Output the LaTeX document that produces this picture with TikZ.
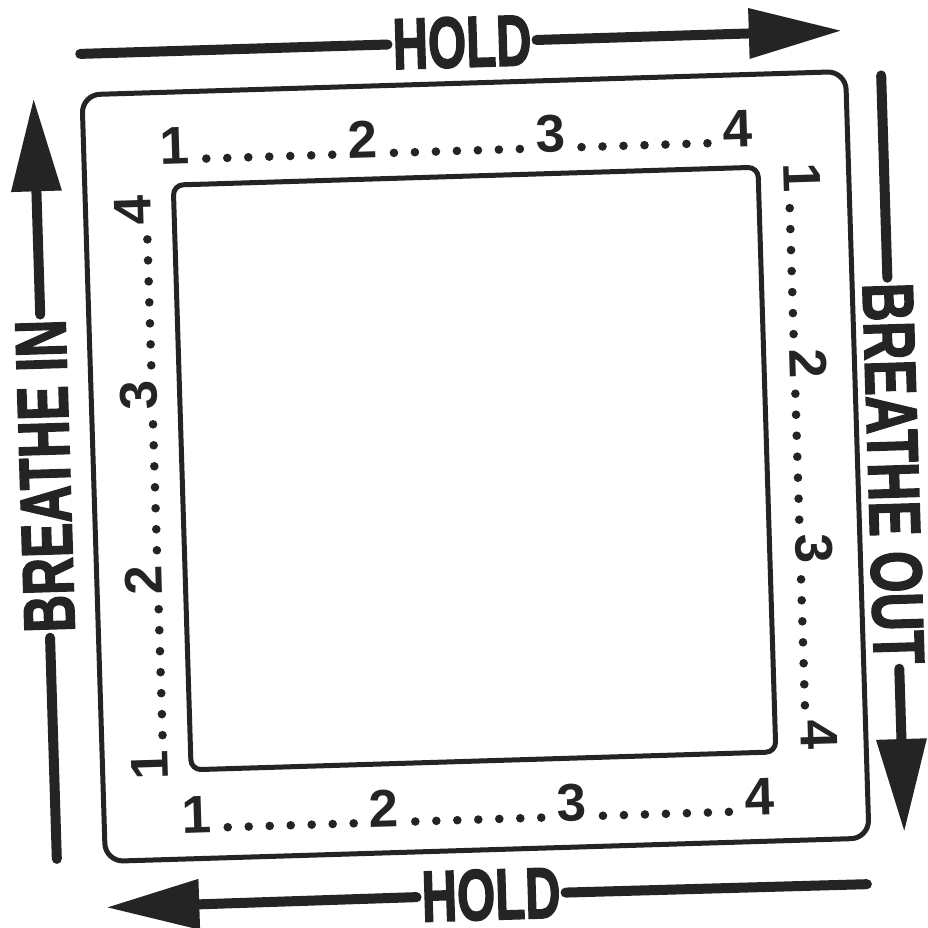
\documentclass[tikz,border=0pt]{standalone}
\usepackage{fontspec}
\usetikzlibrary{arrows.meta}
\newfontfamily\countfont{Liberation Sans}
\newfontfamily\holdfont{Liberation Sans}[FakeBold=2.5]
\definecolor{inkGray}{HTML}{242424}
\newcommand{\cond}[2][0.68]{\scalebox{#1}[1]{#2}}
% one counting side: x, y, rotation, gap, name
\newcommand{\countside}[5]{%
  \begin{scope}[shift={(#1,#2)}, rotate=#3, transform shape]
    \foreach \k in {1,...,4}
      \node[countnum] (#5\k) at ({(\k-1)*#4},0) {\k};
    \foreach \k in {0,1,2}
      \foreach \j in {-3,...,3}
        \fill[inkGray] ({\k*#4+#4/2+\j*21},4.5) circle (4.3);
  \end{scope}}
\tikzset{
  countnum/.style={font=\countfont\bfseries\fontsize{53}{53}\selectfont, anchor=base, inner sep=0pt, text=inkGray},
  cuelbl/.style={font=\holdfont\bfseries\fontsize{72}{72}\selectfont, inner sep=5pt, text=inkGray},
  cuebar/.style={line width=10pt, line cap=round, inkGray},
  cuetip/.style={-{Triangle[length=93pt, width=48pt]}}
}

\begin{document}
\begin{tikzpicture}[x=1pt, y=1pt]
  \useasboundingbox[fill=white] (-475,-461) rectangle (453,467);
  \begin{scope}[rotate=1.75, transform shape]
    % Frames
    \draw[inkGray, line width=5pt, rounded corners=18pt] (-381.5,-383) rectangle (382.5,384);
    \draw[inkGray, line width=5pt, rounded corners=10pt] (-293,-294) rectangle (292,291);
    % Counting sides
    \countside{-290}{312}{0}{187.7}{top}
    \countside{318}{279}{-90}{185.7}{rgt}
    \countside{-289}{-357}{0}{187.7}{bot}
    \countside{-316}{-288}{90}{185}{lft}
    % Cue labels
    \node[cuelbl] (holdT) at (0,425) {\cond{HOLD}};
    \node[cuelbl] (holdB) at (3,-428) {\cond{HOLD}};
    \node[cuelbl, rotate=90] (inhale) at (-430,4) {\cond[0.72]{BREATHE IN}};
    \node[cuelbl, rotate=-90] (exhale) at (418,-19) {\cond[0.74]{BREATHE OUT}};
    % Arrow ends
    \coordinate (tS) at (-382,425);
    \coordinate (tE) at (380,425);
    \coordinate (bS) at (379,-429);
    \coordinate (bE) at (-382,-429);
    \coordinate (lS) at (-430,-379);
    \coordinate (lE) at (-430,382);
    \coordinate (rS) at (418,379);
    \coordinate (rE) at (418,-378);
    % Arrows
    \draw[cuebar] (tS) -- (holdT);
    \draw[cuebar, cuetip] (holdT) -- (tE);
    \draw[cuebar] (rS) -- (exhale);
    \draw[cuebar, cuetip] (exhale) -- (rE);
    \draw[cuebar] (bS) -- (holdB);
    \draw[cuebar, cuetip] (holdB) -- (bE);
    \draw[cuebar] (lS) -- (inhale);
    \draw[cuebar, cuetip] (inhale) -- (lE);
  \end{scope}
\end{tikzpicture}
\end{document}
